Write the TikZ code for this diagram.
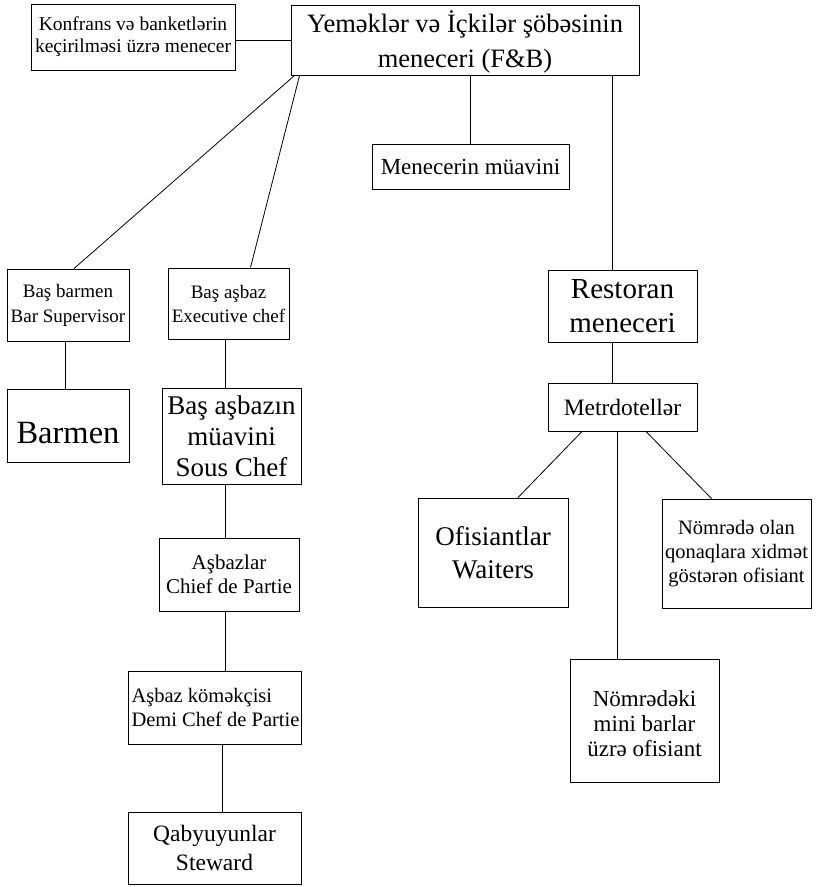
\documentclass[tikz,border=0pt]{standalone}
\usepackage{fontspec}
\setmainfont{Liberation Serif}
\newcommand{\fs}[2]{\fontsize{#1}{#2}\selectfont}
\newcommand{\lowered}[2]{\raisebox{-#1}[\height][\depth]{#2}}
\begin{document}
\begin{tikzpicture}[x=1pt,y=-1pt,
  box/.style={draw, line width=0.9pt, inner sep=0pt, align=center},
  conn/.style={line width=0.8pt}]
\useasboundingbox (0,0) rectangle (815,887);
\fill[white] (0,0) rectangle (815,887);
% nodes
\node[box, minimum width=204, minimum height=66, font=\fs{19.5}{22}] (konf) at (133,37)
  {Konfrans və banketlərin\\keçirilməsi üzrə menecer};
\node[box, minimum width=348, minimum height=70, font=\fs{26.5}{35}] (main) at (465,40)
  {\lowered{2pt}{Yeməklər və İçkilər şöbəsinin}\\\lowered{2pt}{meneceri (F\&B)}};
\node[box, minimum width=197, minimum height=45, font=\fs{23}{26}] (muav) at (470.5,166.5)
  {Menecerin müavini};
\node[box, minimum width=122, minimum height=72, font=\fs{19}{25}] (bar) at (68,305)
  {Baş barmen\\Bar Supervisor};
\node[box, minimum width=121, minimum height=71, font=\fs{19}{24}] (chef) at (228.5,303.5)
  {Baş aşbaz\\Executive chef};
\node[box, minimum width=122, minimum height=73, font=\fs{32.5}{36}] (barmen) at (68,425.5)
  {\lowered{8pt}{Barmen}};
\node[box, minimum width=139, minimum height=96, font=\fs{27}{31}] (sous) at (231.5,436)
  {Baş aşbazın\\müavini\\Sous Chef};
\node[box, minimum width=140, minimum height=73, font=\fs{21}{24}] (asbaz) at (229,574.5)
  {Aşbazlar\\Chief de Partie};
\node[box, minimum width=173, minimum height=73, font=\fs{20.5}{24}, align=left] (demi) at (214.5,707.5)
  {\hspace*{2pt}Aşbaz köməkçisi\\\hspace*{2pt}Demi Chef de Partie};
\node[box, minimum width=173, minimum height=72, font=\fs{23.5}{29}] (qab) at (214.5,848)
  {Qabyuyunlar\\Steward};
\node[box, minimum width=149, minimum height=72, font=\fs{29}{34}] (rest) at (622.5,306)
  {Restoran\\meneceri};
\node[box, minimum width=149, minimum height=48, font=\fs{23.5}{26}] (metr) at (622.5,407)
  {Metrdotellər};
\node[box, minimum width=150, minimum height=109, font=\fs{27}{33}] (ofis) at (493,552.5)
  {Ofisiantlar\\Waiters};
\node[box, minimum width=149, minimum height=109, font=\fs{20.5}{24}] (nom1) at (736.5,553.5)
  {Nömrədə olan\\qonaqlara xidmət\\göstərən ofisiant};
\node[box, minimum width=149, minimum height=123, font=\fs{23}{25}] (nom2) at (644.5,720.5)
  {\lowered{3pt}{Nömrədəki}\\\lowered{3pt}{mini barlar}\\\lowered{3pt}{üzrə ofisiant}};
% connectors
\draw[conn] (konf.east |- main.west) -- (main.west);
\draw[conn] (main.south -| muav.north) -- (muav.north);
\draw[conn] ([xshift=-10.5pt]main.south -| rest.north) -- ([xshift=-10.5pt]rest.north);
\draw[conn] ([xshift=4pt]main.south west) -- ([xshift=6pt]bar.north);
\draw[conn] ([xshift=9pt]main.south west) -- ([xshift=22pt]chef.north);
\draw[conn] ([xshift=-3pt]bar.south) -- ([xshift=-3pt]barmen.north);
\draw[conn] ([xshift=-3.5pt]chef.south) -- ([xshift=-6.5pt]sous.north);
\draw[conn] ([xshift=-6.5pt]sous.south) -- ([xshift=-4pt]asbaz.north);
\draw[conn] ([xshift=-4pt]asbaz.south) -- ([xshift=10.5pt]demi.north);
\draw[conn] ([xshift=7.5pt]demi.south) -- ([xshift=7.5pt]qab.north);
\draw[conn] ([xshift=-10.5pt]rest.south) -- ([xshift=-10.5pt]metr.north);
\draw[conn] ([xshift=-40.5pt]metr.south) -- ([xshift=25pt]ofis.north);
\draw[conn] ([xshift=23.5pt]metr.south) -- ([xshift=-25pt]nom1.north);
\draw[conn] ([xshift=-5.5pt]metr.south) -- ([xshift=-27.5pt]nom2.north);
\end{tikzpicture}
\end{document}
